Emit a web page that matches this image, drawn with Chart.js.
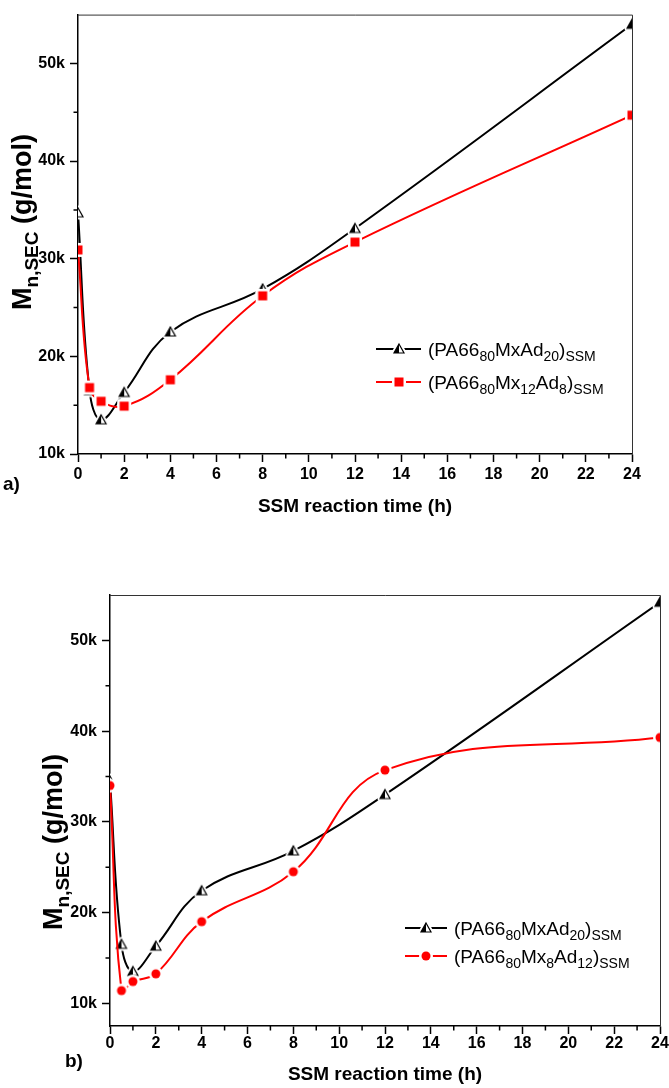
<!DOCTYPE html>
<html>
<head>
<meta charset="utf-8">
<script src="https://cdn.jsdelivr.net/npm/chart.js@4.4.0/dist/chart.umd.min.js"></script>
<style>
  html, body { margin: 0; padding: 0; background: #fff; }
  #wrap { position: relative; width: 669px; height: 1088px; }
  canvas { position: absolute; left: 0; }
  #chartA { top: 0; }
  #chartB { top: 540px; }
</style>
</head>
<body>
<div id="wrap">
  <canvas id="chartA" width="669" height="540"></canvas>
  <canvas id="chartB" width="669" height="548"></canvas>
</div>
<script>
// SSM reaction time (h), same sampling for every series
const timeH = [0, 0.5, 1, 2, 4, 8, 12, 24];

// panel a)
const mxAd20A  = [34700, 16500, 13500, 16300, 22500, 26900, 33100, 54000];
const mx12Ad8A = [30900, 16800, 15400, 14900, 17600, 26200, 31700, 44700];

// panel b)
const mxAd20B  = [34500, 16500, 13500, 16300, 22400, 26800, 33000, 54200];
const mx8Ad12B = [34000, 11400, 12400, 13250, 19000, 24500, 35700, 39300];

// axes
const xTicks = [0, 2, 4, 6, 8, 10, 12, 14, 16, 18, 20, 22, 24];
const xMinorTicks = [1, 3, 5, 7, 9, 11, 13, 15, 17, 19, 21, 23];
const yTicks = [10000, 20000, 30000, 40000, 50000];
const yMinorTicks = [15000, 25000, 35000, 45000];

// legend labels: [text, isSubscript]
const labelMxAd20  = [['(PA66'], ['80', 1], ['MxAd'], ['20', 1], [')'], ['SSM', 1]];
const labelMx12Ad8 = [['(PA66'], ['80', 1], ['Mx'], ['12', 1], ['Ad'], ['8', 1], [')'], ['SSM', 1]];
const labelMx8Ad12 = [['(PA66'], ['80', 1], ['Mx'], ['8', 1], ['Ad'], ['12', 1], [')'], ['SSM', 1]];
const yTitle = [['M'], ['n,SEC', 1], [' (g/mol)']];

const FONT = "'Liberation Sans', Arial, sans-serif";
Chart.defaults.font.family = FONT;
Chart.defaults.color = '#000';

/* ---------- markers (white halo gives the gap in the line) ---------- */
function marker(kind, color){
  const s = 18, m = 9;
  const c = document.createElement('canvas');
  c.width = c.height = s;
  const g = c.getContext('2d');
  if(kind === 'tri'){
    const top = m - 5, base = m + 4, hw = 5;
    const tri = () => { g.beginPath(); g.moveTo(m, top); g.lineTo(m + hw, base); g.lineTo(m - hw, base); g.closePath(); };
    tri(); g.fillStyle = '#fff'; g.fill();
    g.lineJoin = 'round'; g.strokeStyle = '#fff'; g.lineWidth = 5; g.stroke();
    g.beginPath(); g.moveTo(m, top); g.lineTo(m, base); g.lineTo(m - hw, base); g.closePath();
    g.fillStyle = color; g.fill();
    tri(); g.lineJoin = 'miter'; g.strokeStyle = color; g.lineWidth = 1.2; g.stroke();
  } else if(kind === 'square'){
    g.fillStyle = '#fff'; g.fillRect(m - 7, m - 7, 14, 14);
    g.fillStyle = color; g.fillRect(m - 4.5, m - 4.5, 9, 9);
  } else {
    g.fillStyle = '#fff'; g.beginPath(); g.arc(m, m, 7, 0, Math.PI * 2); g.fill();
    g.fillStyle = color; g.beginPath(); g.arc(m, m, 4.5, 0, Math.PI * 2); g.fill();
  }
  return c;
}
const triBlack = marker('tri', '#000');
const squareRed = marker('square', '#ff0000');
const circleRed = marker('circle', '#ff0000');

/* ---------- text with subscripts ---------- */
function richWidth(g, parts, big, small, weight){
  let w = 0;
  parts.forEach(([t, sub]) => { g.font = `${weight} ${sub ? small : big}px ${FONT}`; w += g.measureText(t).width; });
  return w;
}
function rich(g, x, y, parts, big, small, weight, drop){
  parts.forEach(([t, sub]) => {
    g.font = `${weight} ${sub ? small : big}px ${FONT}`;
    g.fillText(t, x, sub ? y + drop : y);
    x += g.measureText(t).width;
  });
}

/* ---------- frame, minor ticks, y title, panel letter, legend ---------- */
function extras(o){
  return {
    id: 'extras',
    afterDraw(chart){
      const g = chart.ctx, a = chart.chartArea, xs = chart.scales.x, ys = chart.scales.y;
      g.save();
      g.strokeStyle = '#333'; g.lineWidth = 1;
      g.beginPath();
      g.moveTo(a.left, a.top + 0.5); g.lineTo(a.right + 0.5, a.top + 0.5); g.lineTo(a.right + 0.5, a.bottom);
      g.stroke();

      g.strokeStyle = '#000'; g.lineWidth = 1.5;
      g.beginPath();
      xMinorTicks.forEach(v => { const p = xs.getPixelForValue(v); g.moveTo(p, a.bottom); g.lineTo(p, a.bottom + 4.5); });
      yMinorTicks.forEach(v => { const p = ys.getPixelForValue(v); g.moveTo(a.left - 4.5, p); g.lineTo(a.left, p); });
      g.stroke();

      // rotated y title
      g.fillStyle = '#000'; g.textBaseline = 'alphabetic';
      g.save();
      g.translate(o.yTitleX, o.yTitleY);
      g.rotate(-Math.PI / 2);
      const w = richWidth(g, yTitle, 27, 19, 'bold');
      rich(g, -w / 2, 10, yTitle, 27, 19, 'bold', 7);
      g.restore();

      // panel letter
      g.font = `bold 19px ${FONT}`; g.textBaseline = 'middle';
      g.fillText(o.letter, o.letterX, o.letterY);

      // legend
      g.textBaseline = 'alphabetic';
      o.legend.forEach((row, i) => {
        const cy = o.legY + i * o.legGap;
        g.strokeStyle = row.color; g.lineWidth = 2;
        g.beginPath(); g.moveTo(o.legX, cy); g.lineTo(o.legX + o.legLen, cy); g.stroke();
        g.drawImage(row.img, Math.round(o.legX + o.legLen / 2 - 9), Math.round(cy - 9));
        g.fillStyle = '#000';
        rich(g, o.legX + o.legLen + 7, cy + 7, row.label, 19, 14, '', 5);
      });
      g.restore();
    }
  };
}

function panel(id, o){
  const axisGrid = { drawOnChartArea: false, tickLength: 8, tickWidth: 1.5, tickColor: '#000' };
  const axisBorder = { color: '#000', width: 1.5 };
  new Chart(document.getElementById(id), {
    type: 'line',
    data: {
      datasets: o.series.map(s => ({
        data: timeH.map((t, k) => ({ x: t, y: s.values[k] })),
        borderColor: s.color,
        borderWidth: 2,
        tension: 0.4,
        pointStyle: s.img,
        pointRadius: 5,
        clip: 0,
        order: s.order
      }))
    },
    options: {
      responsive: false,
      animation: false,
      layout: { padding: o.pad },
      plugins: { legend: { display: false }, tooltip: { enabled: false } },
      scales: {
        x: {
          type: 'linear', min: 0, max: 24,
          afterBuildTicks: s => { s.ticks = xTicks.map(v => ({ value: v })); },
          afterFit: s => { s.height = o.xH; },
          grid: axisGrid, border: axisBorder,
          ticks: { font: { size: 16, weight: 'bold' }, padding: o.xPad, maxRotation: 0, autoSkip: false },
          title: { display: true, text: 'SSM reaction time (h)', font: { size: 19, weight: 'bold' }, padding: { top: 0, bottom: o.titlePad } }
        },
        y: {
          type: 'linear', min: o.yMin, max: 55000,
          afterBuildTicks: s => { s.ticks = yTicks.map(v => ({ value: v })); },
          afterFit: s => { s.width = o.yW; },
          grid: axisGrid, border: axisBorder,
          ticks: { font: { size: 16, weight: 'bold' }, padding: 5, callback: v => (v / 1000) + 'k' }
        }
      }
    },
    plugins: [extras(o)]
  });
}

panel('chartA', {
  series: [
    { values: mxAd20A, color: '#000', img: triBlack, order: 2 },
    { values: mx12Ad8A, color: '#ff0000', img: squareRed, order: 1 }
  ],
  pad: { top: 12, right: 37, left: 0, bottom: 0 },
  xH: 86, yW: 78, yMin: 10000, xPad: 3, titlePad: 22,
  yTitleX: 21, yTitleY: 222,
  letter: 'a)', letterX: 3, letterY: 485,
  legX: 376, legLen: 45, legY: 349, legGap: 33,
  legend: [
    { color: '#000', img: triBlack, label: labelMxAd20 },
    { color: '#ff0000', img: squareRed, label: labelMx12Ad8 }
  ]
});

panel('chartB', {
  series: [
    { values: mxAd20B, color: '#000', img: triBlack, order: 2 },
    { values: mx8Ad12B, color: '#ff0000', img: circleRed, order: 1 }
  ],
  pad: { top: 55, right: 9, left: 0, bottom: 0 },
  xH: 62, yW: 110, yMin: 7500, xPad: 0, titlePad: 2,
  yTitleX: 52, yTitleY: 302,
  letter: 'b)', letterX: 65, letterY: 522,
  legX: 405, legLen: 42, legY: 388, legGap: 28,
  legend: [
    { color: '#000', img: triBlack, label: labelMxAd20 },
    { color: '#ff0000', img: circleRed, label: labelMx8Ad12 }
  ]
});
</script>
</body>
</html>
